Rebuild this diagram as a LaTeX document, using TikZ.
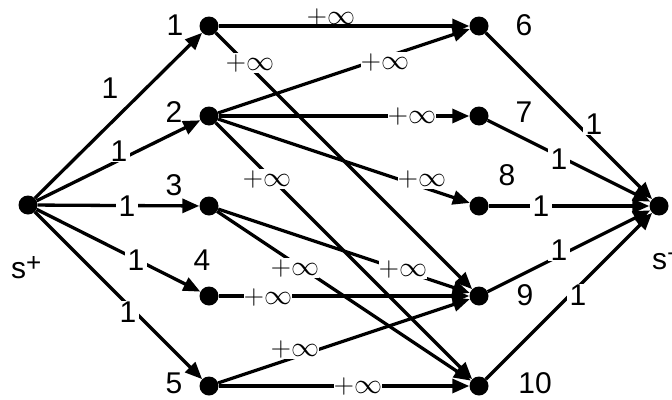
\RequirePackage{fix-cm}
\documentclass[tikz,border=0pt]{standalone}
\usepackage{fontspec}
\setmainfont{Liberation Sans}
\usetikzlibrary{arrows.meta}
\begin{document}
\begin{tikzpicture}[x=1pt,y=-1pt,
  dot/.style={circle,fill=black,inner sep=0pt,minimum size=19pt},
  arc/.style={line width=3.3pt,-{Triangle[length=17pt,width=14pt]}},
  big/.style={font=\fontsize{30}{32}\selectfont},
  mth/.style={font=\fontsize{28}{30}\selectfont},
  num/.style={big,inner sep=0pt},
  lab/.style={big,fill=white,inner xsep=3pt,inner ysep=1pt},
  inf/.style={mth,fill=white,inner xsep=0pt,inner ysep=1pt},
]
\useasboundingbox (0,0) rectangle (672,399);
% nodes
\node[dot] (s) at (28,205) {};
\node[dot] (n1) at (209,26) {};
\node[dot] (n2) at (209,116) {};
\node[dot] (n3) at (209,206) {};
\node[dot] (n4) at (209,296) {};
\node[dot] (n5) at (209,386) {};
\node[dot] (n6) at (479,26) {};
\node[dot] (n7) at (479,116) {};
\node[dot] (n8) at (479,206) {};
\node[dot] (n9) at (479,296) {};
\node[dot] (n10) at (479,386) {};
\node[dot] (t) at (659,206) {};
% edges from source
\draw[arc] (s) -- (n1);
\draw[arc] (s) -- (n2);
\draw[arc] (s) -- (n3);
\draw[arc] (s) -- (n4);
\draw[arc] (s) -- (n5);
% middle edges
\draw[arc] (n1) -- (n6);
\draw[arc] (n1) -- (n9);
\draw[arc] (n2) -- (n6);
\draw[arc] (n2) -- (n7);
\draw[arc] (n2) -- (n8);
\draw[arc] (n2) -- (n10);
\draw[arc] (n3) -- (n9);
\draw[arc] (n3) -- (n10);
\draw[arc] (n4) -- (n9);
\draw[arc] (n5) -- (n9);
\draw[arc] (n5) -- (n10);
% edges to sink
\draw[arc] (n6) -- (t);
\draw[arc] (n7) -- (t);
\draw[arc] (n8) -- (t);
\draw[arc] (n9) -- (t);
\draw[arc] (n10) -- (t);
% capacity labels 1
\node[num] (c1) at (110,88) {1};
\node[lab] (c2) at (119,151) {1};
\node[lab] (c3) at (127,206) {1};
\node[lab] (c4) at (136,260) {1};
\node[lab] (c5) at (128,312) {1};
\node[lab] (c6) at (594,124) {1};
\node[lab] (c7) at (559,159) {1};
\node[lab] (c8) at (541,206) {1};
\node[lab] (c9) at (559,250) {1};
\node[lab] (c10) at (578,295) {1};
% infinite capacity labels
\node[mth,inner sep=0pt] (i16) at (331,17) {$+\infty$};
\node[inf] (i19) at (250,63) {$+\infty$};
\node[inf] (i26) at (385,62) {$+\infty$};
\node[inf] (i27) at (412,116) {$+\infty$};
\node[inf] (i28) at (422,179) {$+\infty$};
\node[inf] (i210) at (267,179) {$+\infty$};
\node[inf] (i39) at (403,269) {$+\infty$};
\node[inf] (i310) at (295,268) {$+\infty$};
\node[inf] (i49) at (268,297) {$+\infty$};
\node[inf] (i59) at (295,349) {$+\infty$};
\node[inf] (i510) at (358,386) {$+\infty$};
% node names
\node[num] (l1) at (175,25) {1};
\node[num] (l2) at (174,112) {2};
\node[num] (l3) at (174,185) {3};
\node[num] (l4) at (202,260) {4};
\node[num] (l5) at (174,383) {5};
\node[num] (l6) at (524,25) {6};
\node[num] (l7) at (524,112) {7};
\node[num] (l8) at (507,175) {8};
\node[num] (l9) at (525,295) {9};
\node[num] (l10) at (535,383) {10};
\node[num,anchor=base west] (ls) at (11,278) {s\raisebox{7pt}{\fontsize{26}{26}\selectfont +}};
\node[num,anchor=base west] (lt) at (652,269) {s\raisebox{7pt}{\fontsize{26}{26}\selectfont +}};
\end{tikzpicture}
\end{document}
